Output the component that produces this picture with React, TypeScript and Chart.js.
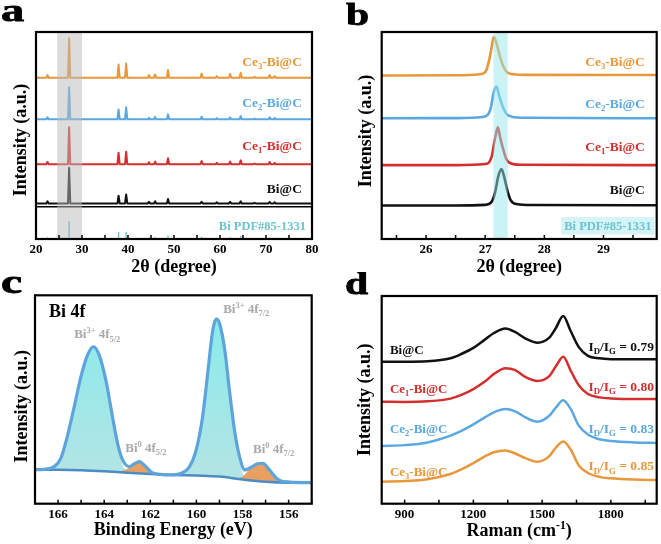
import React, { useEffect, useRef } from 'react';
import { Chart, registerables } from 'chart.js';

Chart.register(...registerables);

const SERIF = "'Liberation Serif', 'Times New Roman', Times, serif";

const ORANGE = '#E8973A';
const BLUE = '#5AA8E2';
const RED = '#D22F2E';
const BLACK = '#111111';
const TEAL = '#6CC4D2';
const GRAYTXT = '#A9A9A9';

// ---------------- Panel a : XRD ----------------
const XRD_TICKS = [20, 30, 40, 50, 60, 70, 80];
const XRD_PEAK_POS = [22.5, 27.2, 37.95, 39.6, 44.55, 45.9, 48.7, 56.0, 59.3, 62.2, 64.5, 67.5, 70.8, 71.9];
const XRD_BIC = [1.0, 17.2, 3.7, 4.3, 0.8, 1.0, 2.1, 0.8, 0.5, 0.8, 1.0, 0.3, 0.7, 0.5];
const XRD_CE1 = [1.1, 17.9, 5.6, 6.1, 1.0, 1.3, 2.9, 1.6, 0.7, 1.3, 1.9, 0.4, 1.1, 0.7];
const XRD_CE2 = [1.0, 15.5, 4.8, 5.8, 0.8, 1.2, 2.4, 1.3, 0.6, 1.0, 1.6, 0.4, 1.0, 0.7];
const XRD_CE3 = [1.3, 19.0, 6.4, 6.9, 1.3, 1.6, 3.7, 2.1, 0.8, 1.8, 2.4, 0.5, 1.3, 0.8];
const XRD_OFFSETS = [17.2, 36.1, 57.8, 77.9]; // Bi@C, Ce1, Ce2, Ce3
const PDF_POS = [22.5, 27.2, 37.95, 39.6, 44.55, 45.9, 48.7, 56.0, 59.3, 62.2, 64.5, 70.8, 71.9];
const PDF_H = [0.6, 8.5, 3.2, 3.2, 0.5, 0.6, 1.5, 0.8, 0.4, 0.6, 1.2, 0.5, 0.4];
const XRD_DIVIDER = 15.6;
const XRD_BAND = [24.6, 30.0];
const PEAK_HALF_WIDTH = 0.25;

// ---------------- Panel b : XRD zoom ----------------
const B_TICKS = [26, 27, 28, 29];
const B_BIC_X = [25.25, 26.5, 27.0, 27.11, 27.17, 27.22, 27.275, 27.32, 27.38, 27.43, 27.53, 27.8, 29.9];
const B_BIC_Y = [16.2, 16.2, 16.5, 18.0, 22.9, 30.1, 33.8, 30.1, 22.9, 18.8, 16.9, 16.4, 16.3];
const B_CE1_X = [25.25, 26.5, 27.0, 27.11, 27.15, 27.19, 27.215, 27.25, 27.3, 27.36, 27.43, 27.6, 29.9];
const B_CE1_Y = [35.7, 35.7, 36.2, 39.8, 46.2, 51.8, 54.0, 49.4, 43.8, 38.5, 36.6, 35.9, 35.7];
const B_CE2_X = [25.25, 26.5, 26.95, 27.06, 27.1, 27.14, 27.19, 27.24, 27.3, 27.36, 27.45, 27.7, 29.9];
const B_CE2_Y = [58.3, 58.4, 58.9, 60.7, 63.9, 70.4, 73.6, 68.8, 63.6, 60.4, 59.1, 58.6, 58.3];
const B_CE3_X = [25.25, 26.5, 26.9, 26.97, 27.02, 27.08, 27.11, 27.145, 27.2, 27.25, 27.31, 27.38, 27.48, 27.7, 29.9];
const B_CE3_Y = [79.0, 79.1, 79.6, 80.0, 81.6, 88.1, 92.9, 97.7, 93.7, 88.1, 83.2, 80.3, 79.6, 79.3, 79.2];
const B_BAND = [27.14, 27.38];

// ---------------- Panel c : XPS Bi 4f ----------------
const C_TICKS = [156, 158, 160, 162, 164, 166];
const C_BG_X = [155, 156, 157, 158, 159, 160, 161, 162, 163, 164, 165, 166, 167];
const C_BG_Y = [10.1, 10.1, 10.5, 11.6, 13.0, 13.5, 13.8, 14.3, 14.9, 15.6, 16.1, 16.3, 16.3];
const C_ENV_X = [155.0, 156.25, 156.53, 156.83, 157.12, 157.38, 157.7, 157.9, 158.13, 158.35, 158.57, 158.77, 159.0, 159.14, 159.29, 159.51, 159.73, 160.01, 160.3, 160.74, 161.17, 161.57, 161.93, 162.22, 162.48, 162.7, 162.91, 163.2, 163.42, 163.64, 163.93, 164.22, 164.46, 164.72, 165.01, 165.3, 165.6, 165.88, 166.17, 166.6, 167.0];
const C_ENV_Y = [10.1, 10.6, 12.2, 16.2, 19.4, 19.0, 17.0, 16.2, 22.6, 35.4, 54.6, 73.8, 86.6, 88.6, 83.3, 62.6, 41.7, 25.8, 17.8, 14.3, 13.8, 14.1, 14.9, 18.1, 20.2, 19.1, 17.8, 21.0, 29.0, 41.7, 59.4, 71.4, 75.3, 71.4, 60.9, 46.5, 32.2, 21.8, 17.8, 16.5, 16.3];
const C_B35_X = [162.8, 163.0, 163.2, 163.42, 163.64, 163.93, 164.22, 164.46, 164.72, 165.01, 165.3, 165.6, 165.88, 166.17, 166.5, 166.8];
const C_B35_Y = [15.0, 15.5, 18.6, 28.5, 41.7, 59.4, 71.4, 75.3, 71.4, 60.9, 46.5, 32.2, 21.8, 17.8, 16.5, 16.3];
const C_B05_X = [161.6, 161.93, 162.22, 162.48, 162.7, 162.91, 163.2, 163.5];
const C_B05_Y = [14.0, 14.9, 18.1, 20.2, 19.1, 17.2, 15.8, 15.25];
const C_B37_X = [157.7, 157.9, 158.13, 158.35, 158.57, 158.77, 159.0, 159.14, 159.29, 159.51, 159.73, 160.01, 160.3, 160.6, 160.9];
const C_B37_Y = [11.3, 12.4, 20.0, 35.4, 54.6, 73.8, 86.6, 88.6, 83.3, 62.6, 41.7, 25.8, 17.8, 14.2, 13.7];
const C_B07_X = [156.3, 156.53, 156.83, 157.12, 157.38, 157.7, 157.9, 158.13, 158.4];
const C_B07_Y = [10.2, 12.2, 16.2, 19.4, 19.0, 16.5, 14.0, 12.3, 12.1];

// ---------------- Panel d : Raman ----------------
const D_TICKS = [900, 1200, 1500, 1800];
const D_X = [800, 900, 1000, 1100, 1150, 1200, 1250, 1290, 1340, 1380, 1430, 1480, 1530, 1560, 1592, 1625, 1660, 1700, 1750, 1800, 1900, 2000];
const D_BIC = [68.4, 68.4, 68.6, 70.0, 72.2, 75.0, 79.0, 82.2, 84.4, 82.8, 79.4, 77.5, 79.8, 84.6, 90.4, 83.0, 75.4, 71.2, 70.0, 69.6, 69.5, 69.5];
const D_CE1 = [49.1, 49.0, 49.3, 50.6, 52.5, 55.2, 58.8, 62.5, 65.2, 64.4, 60.8, 59.1, 61.3, 66.2, 70.8, 64.0, 57.0, 52.8, 51.2, 50.7, 50.4, 50.4];
const D_CE2 = [27.8, 28.2, 29.5, 32.8, 35.2, 38.2, 41.6, 44.0, 45.6, 44.6, 41.4, 39.5, 42.2, 46.3, 49.8, 45.5, 37.6, 33.3, 31.0, 30.2, 29.5, 29.2];
const D_CE3 = [10.6, 10.9, 11.8, 14.3, 16.6, 19.5, 22.8, 24.8, 25.6, 24.3, 21.8, 20.2, 22.8, 27.0, 29.9, 26.0, 18.4, 14.8, 12.9, 12.2, 11.6, 11.4];
const D_RATIOS = ['0.79', '0.80', '0.83', '0.85'];

// ---------------- helpers ----------------
type Seg = [string, ('sub' | 'sup')?];
interface RichLabel {
  segs: Seg[]; x: number; y: number; color: string; align: 'left' | 'right' | 'center';
  size: number; px?: boolean; bg?: string; baseline?: boolean; sx?: number; stroke?: number;
}

const sampleSegs = (i: number): Seg[] =>
  i === 0 ? [['Bi@C']] : [['Ce'], [String(i), 'sub'], ['-Bi@C']];

function drawRich(ctx: CanvasRenderingContext2D, chart: any, l: RichLabel) {
  const X = l.px ? l.x : chart.scales.x.getPixelForValue(l.x);
  const Y = l.px ? l.y : chart.scales.y.getPixelForValue(l.y);
  const sx = l.sx ?? 1;
  const parts = l.segs.map(([t, k]) => {
    const sz = k ? l.size * 0.65 : l.size;
    ctx.font = `bold ${sz}px ${SERIF}`;
    return { t, k, sz, w: ctx.measureText(t).width * sx };
  });
  const total = parts.reduce((a, p) => a + p.w, 0);
  let x0 = l.align === 'left' ? X : l.align === 'right' ? X - total : X - total / 2;
  const base = l.baseline ? Y : Y + l.size * 0.34;
  if (l.bg) {
    ctx.fillStyle = l.bg;
    ctx.fillRect(x0 - 3, Y - l.size * 0.7, total + 6, l.size * 1.4);
  }
  ctx.fillStyle = l.color;
  ctx.strokeStyle = l.color;
  ctx.textAlign = 'left';
  ctx.textBaseline = 'alphabetic';
  for (const p of parts) {
    ctx.font = `bold ${p.sz}px ${SERIF}`;
    const dy = p.k === 'sub' ? l.size * 0.24 : p.k === 'sup' ? -l.size * 0.4 : 0;
    ctx.save();
    ctx.translate(x0, base + dy);
    ctx.scale(sx, 1);
    ctx.fillText(p.t, 0, 0);
    if (l.stroke) { ctx.lineWidth = l.stroke; ctx.strokeText(p.t, 0, 0); }
    ctx.restore();
    x0 += p.w;
  }
}

interface Deco { bands?: { from: number; to: number; color: string }[]; minor: number; labels: RichLabel[]; }

function decoPlugin(cfg: Deco) {
  return {
    id: 'deco',
    afterDatasetsDraw(chart: any) {
      const { ctx, chartArea: a, scales } = chart;
      const xs = scales.x;
      ctx.save();
      for (const b of cfg.bands ?? []) {
        const x1 = xs.getPixelForValue(b.from), x2 = xs.getPixelForValue(b.to);
        ctx.fillStyle = b.color;
        ctx.fillRect(Math.min(x1, x2), a.top, Math.abs(x2 - x1), a.bottom - a.top);
      }
      cfg.labels.forEach((l) => drawRich(ctx, chart, l));
      const lo = Math.min(xs.min, xs.max), hi = Math.max(xs.min, xs.max);
      const n0 = Math.ceil(lo / cfg.minor - 1e-9), n1 = Math.floor(hi / cfg.minor + 1e-9);
      ctx.strokeStyle = '#000';
      ctx.lineWidth = 1.5;
      for (let n = n0; n <= n1; n++) {
        const px = xs.getPixelForValue(n * cfg.minor);
        ctx.beginPath();
        ctx.moveTo(px, a.bottom);
        ctx.lineTo(px, a.bottom - 4);
        ctx.stroke();
      }
      ctx.lineWidth = 2.2;
      ctx.strokeRect(a.left, a.top, a.right - a.left, a.bottom - a.top);
      ctx.restore();
    },
  };
}

interface OptP {
  xMin: number; xMax: number; ticks: number[]; reverse?: boolean; xTitle?: string; xTitlePad: number;
  xHeight: number; yTitle: string; yWidth: number; yTitlePad: number; padTop: number; padRight: number;
}

function buildOptions(p: OptP): any {
  const titleFont = { family: SERIF, size: 18, weight: 'bold' };
  return {
    responsive: false,
    animation: false,
    events: [],
    layout: { autoPadding: false, padding: { left: 0, top: p.padTop, right: p.padRight, bottom: 0 } },
    plugins: { legend: { display: false }, tooltip: { enabled: false } },
    elements: { point: { radius: 0 }, line: { borderJoinStyle: 'round', borderCapStyle: 'round' } },
    scales: {
      x: {
        type: 'linear', min: p.xMin, max: p.xMax, reverse: !!p.reverse,
        grid: { display: false, drawTicks: false }, border: { display: false },
        afterBuildTicks: (s: any) => { s.ticks = p.ticks.map((v) => ({ value: v })); },
        afterFit: (s: any) => { s.height = p.xHeight; },
        ticks: {
          padding: 3, color: '#000', maxRotation: 0, autoSkip: false,
          font: { family: SERIF, size: 13, weight: 'bold' },
          callback: (v: any) => String(v),
        },
        title: {
          display: !!p.xTitle, text: p.xTitle ?? '', color: '#000', font: titleFont,
          padding: { top: 0, bottom: p.xTitlePad },
        },
      },
      y: {
        type: 'linear', min: 0, max: 100,
        grid: { display: false, drawTicks: false }, border: { display: false },
        ticks: { display: false },
        afterFit: (s: any) => { s.width = p.yWidth; },
        title: {
          display: true, text: p.yTitle, color: '#000', font: titleFont,
          padding: { top: p.yTitlePad, bottom: 0 },
        },
      },
    },
  };
}

const line = (data: any[], color: string, width: number, extra: any = {}) => ({
  data, borderColor: color, borderWidth: width, pointRadius: 0, fill: false, tension: 0, ...extra,
});
const zip = (xs: number[], ys: number[]) => xs.map((x, i) => ({ x, y: ys[i] }));

// ---------------- chart configs ----------------
function configA(): any {
  const pattern = (base: number, h: number[]) => {
    const pts: any[] = [{ x: 20, y: base }];
    XRD_PEAK_POS.forEach((p, i) => {
      pts.push({ x: p - PEAK_HALF_WIDTH, y: base }, { x: p, y: base + h[i] }, { x: p + PEAK_HALF_WIDTH, y: base });
    });
    pts.push({ x: 80, y: base });
    return pts;
  };
  const sticks: any[] = [];
  PDF_POS.forEach((p, i) => { sticks.push({ x: p, y: 0 }, { x: p, y: PDF_H[i] }, { x: p, y: null }); });
  const colors = [BLACK, RED, BLUE, ORANGE];
  const series = [XRD_BIC, XRD_CE1, XRD_CE2, XRD_CE3];
  const labelY = [24.5, 45.1, 66.0, 85.7];
  const labels: RichLabel[] = series.map((_, i) => ({
    segs: sampleSegs(i), x: 77.8, y: labelY[i], color: colors[i], align: 'right', size: 13.5,
  }));
  labels.push({ segs: [['Bi PDF#85-1331']], x: 78.7, y: 6.6, color: TEAL, align: 'right', size: 12.5 });
  labels.push({ segs: [['a']], x: 1, y: 21, px: true, baseline: true, color: '#000', align: 'left', size: 32, sx: 1.45, stroke: 0.8 });
  return {
    type: 'line',
    data: {
      datasets: [
        ...series.map((s, i) => line(pattern(XRD_OFFSETS[i], s), colors[i], 2)),
        line([{ x: 20, y: XRD_DIVIDER }, { x: 80, y: XRD_DIVIDER }], '#000', 1.5),
        line(sticks, TEAL, 1.5, { spanGaps: false }),
      ],
    },
    options: buildOptions({
      xMin: 20, xMax: 80, ticks: XRD_TICKS, xTitle: '2θ (degree)', xTitlePad: 2.2, xHeight: 41,
      yTitle: 'Intensity (a.u.)  ', yWidth: 36, yTitlePad: 11, padTop: 32, padRight: 18,
    }),
    plugins: [decoPlugin({
      bands: [{ from: XRD_BAND[0], to: XRD_BAND[1], color: 'rgba(185,185,185,0.5)' }],
      minor: 5, labels,
    })],
  };
}

function configB(): any {
  const colors = [BLACK, RED, BLUE, ORANGE];
  const xs = [B_BIC_X, B_CE1_X, B_CE2_X, B_CE3_X];
  const ys = [B_BIC_Y, B_CE1_Y, B_CE2_Y, B_CE3_Y];
  const labelY = [24.0, 44.9, 65.6, 85.7];
  const labels: RichLabel[] = colors.map((c, i) => ({
    segs: sampleSegs(i), x: 29.7, y: labelY[i], color: c, align: 'right', size: 13.5,
  }));
  labels.push({ segs: [['Bi PDF#85-1331']], x: 29.81, y: 6.4, color: TEAL, align: 'right', size: 12.5, bg: 'rgba(200,240,244,0.75)' });
  labels.push({ segs: [['b']], x: 16, y: 25, px: true, baseline: true, color: '#000', align: 'left', size: 32, sx: 1.3, stroke: 0.8 });
  return {
    type: 'line',
    data: {
      datasets: colors.map((c, i) => line(zip(xs[i], ys[i]), c, 2.6, { cubicInterpolationMode: 'monotone' })),
    },
    options: buildOptions({
      xMin: 25.25, xMax: 29.9, ticks: B_TICKS, xTitle: '2θ (degree)', xTitlePad: 2.2, xHeight: 41,
      yTitle: '  Intensity (a.u.)', yWidth: 51.7, yTitlePad: 26, padTop: 32, padRight: 4.3,
    }),
    plugins: [decoPlugin({
      bands: [{ from: B_BAND[0], to: B_BAND[1], color: 'rgba(150,232,236,0.5)' }],
      minor: 0.5, labels,
    })],
  };
}

function configC(): any {
  const cyan = (ctx: any) => {
    const ca = ctx.chart.chartArea;
    if (!ca) return 'rgba(120,228,228,0.8)';
    const g = ctx.chart.ctx.createLinearGradient(0, ca.top, 0, ca.bottom);
    g.addColorStop(0, 'rgba(110,232,232,0.85)');
    g.addColorStop(1, 'rgba(175,222,222,0.85)');
    return g;
  };
  const orange = 'rgba(230,150,80,0.9)';
  const labels: RichLabel[] = [
    { segs: [['Bi 4f']], x: 166.39, y: 92.5, color: '#000', align: 'left', size: 18 },
    { segs: [['Bi'], ['3+', 'sup'], [' 4f'], ['5/2', 'sub']], x: 164.3, y: 81.4, color: GRAYTXT, align: 'center', size: 13 },
    { segs: [['Bi'], ['3+', 'sup'], [' 4f'], ['7/2', 'sub']], x: 157.84, y: 93.6, color: GRAYTXT, align: 'center', size: 13 },
    { segs: [['Bi'], ['0', 'sup'], [' 4f'], ['5/2', 'sub']], x: 162.19, y: 26.9, color: GRAYTXT, align: 'center', size: 13 },
    { segs: [['Bi'], ['0', 'sup'], [' 4f'], ['7/2', 'sub']], x: 156.65, y: 26.4, color: GRAYTXT, align: 'center', size: 13 },
    { segs: [['c']], x: 1, y: 20.5, px: true, baseline: true, color: '#000', align: 'left', size: 34, sx: 1.4, stroke: 0.8 },
  ];
  const mono = { cubicInterpolationMode: 'monotone' };
  return {
    type: 'line',
    data: {
      datasets: [
        line(zip(C_ENV_X, C_ENV_Y), '#5DA4DD', 3.2, mono),
        line(zip(C_BG_X, C_BG_Y), '#4B8CC6', 2.5, mono),
        line(zip(C_B05_X, C_B05_Y), 'rgba(0,0,0,0)', 0, { ...mono, fill: 1, backgroundColor: orange }),
        line(zip(C_B07_X, C_B07_Y), 'rgba(0,0,0,0)', 0, { ...mono, fill: 1, backgroundColor: orange }),
        line(zip(C_B35_X, C_B35_Y), 'rgba(0,0,0,0)', 0, { ...mono, fill: 1, backgroundColor: cyan }),
        line(zip(C_B37_X, C_B37_Y), 'rgba(0,0,0,0)', 0, { ...mono, fill: 1, backgroundColor: cyan }),
      ],
    },
    options: buildOptions({
      xMin: 155, xMax: 167, reverse: true, ticks: C_TICKS, xTitle: 'Binding Energy (eV)', xTitlePad: 3.2, xHeight: 40.3,
      yTitle: 'Intensity (a.u.)   ', yWidth: 35, yTitlePad: 11.7, padTop: 23.3, padRight: 330 - 311.7,
    }),
    plugins: [decoPlugin({ minor: 1, labels })],
  };
}

function configD(): any {
  const colors = [BLACK, RED, BLUE, ORANGE];
  const series = [D_BIC, D_CE1, D_CE2, D_CE3];
  const nameY = [74.3, 55.4, 36.1, 15.7];
  const ratioY = [75.9, 56.7, 36.4, 18.2];
  const labels: RichLabel[] = [];
  colors.forEach((c, i) => {
    labels.push({ segs: sampleSegs(i), x: 836, y: nameY[i], color: c, align: 'left', size: 13 });
    labels.push({
      segs: [['I'], ['D', 'sub'], ['/I'], ['G', 'sub'], [' = ' + D_RATIOS[i]]],
      x: 1988, y: ratioY[i], color: c, align: 'right', size: 13.5,
    });
  });
  labels.push({ segs: [['Raman (cm'], ['-1', 'sup'], [')']], x: 189.2, y: 258, px: true, color: '#000', align: 'center', size: 18 });
  labels.push({ segs: [['d']], x: 15, y: 21.5, px: true, baseline: true, color: '#000', align: 'left', size: 32, sx: 1.3, stroke: 0.8 });
  return {
    type: 'line',
    data: {
      datasets: colors.map((c, i) => line(zip(D_X, series[i]), c, 2.5, { cubicInterpolationMode: 'monotone' })),
    },
    options: buildOptions({
      xMin: 800, xMax: 2000, ticks: D_TICKS, xTitlePad: 3.2, xHeight: 40.3,
      yTitle: 'Intensity (a.u.)', yWidth: 51.7, yTitlePad: 25, padTop: 24, padRight: 4.3,
    }),
    plugins: [decoPlugin({ minor: 150, labels })],
  };
}

function ChartBox(props: { left: number; top: number; width: number; height: number; make: () => any }) {
  const ref = useRef<HTMLCanvasElement>(null);
  useEffect(() => {
    const chart = new Chart(ref.current as HTMLCanvasElement, props.make());
    return () => chart.destroy();
  }, []);
  const { left, top, width, height } = props;
  return (
    <canvas
      ref={ref}
      width={width}
      height={height}
      style={{ position: 'absolute', left, top, width, height }}
    />
  );
}

export default function App() {
  return (
    <div style={{ position: 'absolute', left: 0, top: 0, width: 661, height: 544, background: '#fff', overflow: 'hidden' }}>
      <ChartBox left={0} top={0} width={330} height={280} make={configA} />
      <ChartBox left={330} top={0} width={331} height={280} make={configB} />
      <ChartBox left={0} top={272} width={330} height={272} make={configC} />
      <ChartBox left={330} top={272} width={331} height={272} make={configD} />
    </div>
  );
}
